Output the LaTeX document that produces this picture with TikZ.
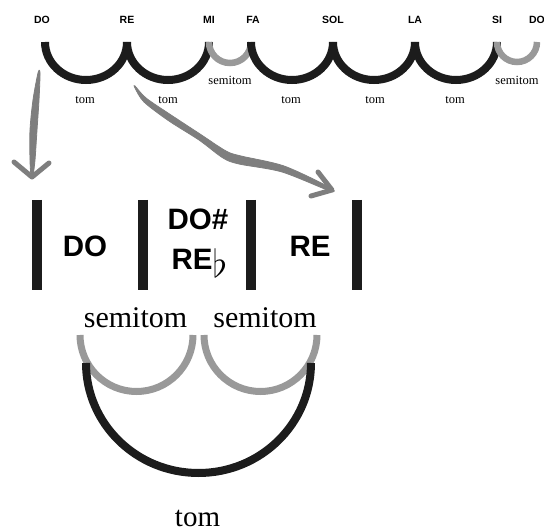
\documentclass[tikz,border=0pt]{standalone}
\usepackage{fontspec}
\setmainfont{Liberation Serif}
\newfontfamily\lsans{Liberation Sans}
\begin{document}
\begin{tikzpicture}[x=1pt,y=1pt,
  tonearc/.style={draw=darkarc,line width=8pt},
  semiarc/.style={draw=grayarc,line width=6.5pt},
  notelbl/.style={font=\lsans\bfseries\fontsize{10.5}{12}\selectfont,inner sep=0pt},
  smalllbl/.style={font=\fontsize{12.5}{14}\selectfont,inner sep=0pt},
  biglbl/.style={font=\lsans\bfseries\fontsize{29.5}{31}\selectfont,inner sep=0pt},
  serlbl/.style={font=\fontsize{30}{32}\selectfont,inner sep=0pt,anchor=base},
  barline/.style={draw=darkarc,line width=10pt},
  brush/.style={fill=arrowgray,draw=arrowgray,line width=0.8pt,line join=round},
  arrowwing/.style={draw=arrowgray,line width=5pt,line cap=round,line join=round}]
\definecolor{darkarc}{HTML}{1C1C1C}
\definecolor{grayarc}{HTML}{999999}
\definecolor{arrowgray}{HTML}{7E7E7E}
\useasboundingbox (0,0) rectangle (544,531);
\clip (0,0) rectangle (544,531);
\fill[white] (0,0) rectangle (544,531);
% top junctions
\coordinate (jDO) at (45,489);
\coordinate (jRE) at (127,489);
\coordinate (jMI) at (209,489);
\coordinate (jFA) at (251,489);
\coordinate (jSOL) at (333,489);
\coordinate (jLA) at (415,489);
\coordinate (jSI) at (497,489);
\coordinate (jDO2) at (537,489);
\draw[tonearc] (jDO) arc[start angle=180,end angle=360,x radius=41,y radius=38];
\draw[tonearc] (jRE) arc[start angle=180,end angle=360,x radius=41,y radius=38];
\draw[semiarc] (jMI) arc[start angle=180,end angle=360,x radius=21,y radius=21];
\draw[tonearc] (jFA) arc[start angle=180,end angle=360,x radius=41,y radius=38];
\draw[tonearc] (jSOL) arc[start angle=180,end angle=360,x radius=41,y radius=38];
\draw[tonearc] (jLA) arc[start angle=180,end angle=360,x radius=41,y radius=38];
\draw[semiarc] (jSI) arc[start angle=180,end angle=360,x radius=20,y radius=20];
% top labels
\node[notelbl] (tDO) at (42,511) {DO};
\node[notelbl] (tRE) at (127,511) {RE};
\node[notelbl] (tMI) at (209,511) {MI};
\node[notelbl] (tFA) at (253,511) {FA};
\node[notelbl] (tSOL) at (333,511) {SOL};
\node[notelbl] (tLA) at (415,511) {LA};
\node[notelbl] (tSI) at (497,511) {SI};
\node[notelbl] (tDO2) at (537,511) {DO};
\node[smalllbl] (t1) at (85,431) {tom};
\node[smalllbl] (t2) at (168,431) {tom};
\node[smalllbl] (t3) at (291,431) {tom};
\node[smalllbl] (t4) at (375,431) {tom};
\node[smalllbl] (t5) at (455,431) {tom};
\node[smalllbl] (s1) at (230,451) {semitom};
\node[smalllbl] (s2) at (517,451) {semitom};
% sketch arrows (brush strokes)
\coordinate (a1t) at (32,354);
\coordinate (a1l) at (14,369);
\coordinate (a1r) at (49,368);
\filldraw[brush] plot[smooth cycle,tension=0.5] coordinates {(38,458) (33,431) (30,401) (30,371) (31,356) (33,356) (35,371) (37,401) (39,431) (40,458)};
\draw[arrowwing] (a1l) -- (a1t) -- (a1r);
\coordinate (a2t) at (332,341);
\coordinate (a2l) at (318,359);
\coordinate (a2r) at (311,335);
\filldraw[brush] plot[smooth cycle,tension=0.5] coordinates {(135,445) (146,433) (171,416) (200,397) (226,380) (241,375) (284,365) (329,344) (330,340) (282,359) (239,367) (223,373) (199,391) (169,410) (144,429) (135,443)};
\draw[arrowwing] (a2l) -- (a2t) -- (a2r);
% bars
\coordinate (b1t) at (37,331); \coordinate (b1b) at (37,241);
\coordinate (b2t) at (143,331); \coordinate (b2b) at (143,241);
\coordinate (b3t) at (251,331); \coordinate (b3b) at (251,241);
\coordinate (b4t) at (357,331); \coordinate (b4b) at (357,241);
\draw[barline] (b1t) -- (b1b);
\draw[barline] (b2t) -- (b2b);
\draw[barline] (b3t) -- (b3b);
\draw[barline] (b4t) -- (b4b);
% middle notes
\node[biglbl] (mDO) at (85,285) {DO};
\node[biglbl] (mDOs) at (198,312) {DO\#};
\node[biglbl] (mREb) at (192,272) {RE};
\node[inner sep=0pt,font=\fontsize{24}{26}\selectfont,scale=1.55] (mflat) at (220,268) {$\flat$};
\node[biglbl] (mRE) at (310,285) {RE};
% semitom labels
\node[serlbl] (ms1) at (135.5,203) {semitom};
\node[serlbl] (ms2) at (265,203) {semitom};
% lower arcs
\coordinate (g1) at (80,196);
\coordinate (g2) at (204,196);
\coordinate (k1) at (86,168);
\draw[semiarc,line width=7pt] (g1) arc[start angle=180,end angle=360,radius=56.5];
\draw[semiarc,line width=7pt] (g2) arc[start angle=180,end angle=360,radius=56.5];
\draw[tonearc] (k1) arc[start angle=180,end angle=360,x radius=112.5,y radius=110];
\node[serlbl,font=\fontsize{29}{31}\selectfont] (mtom) at (197.5,5) {tom};
\end{tikzpicture}
\end{document}
